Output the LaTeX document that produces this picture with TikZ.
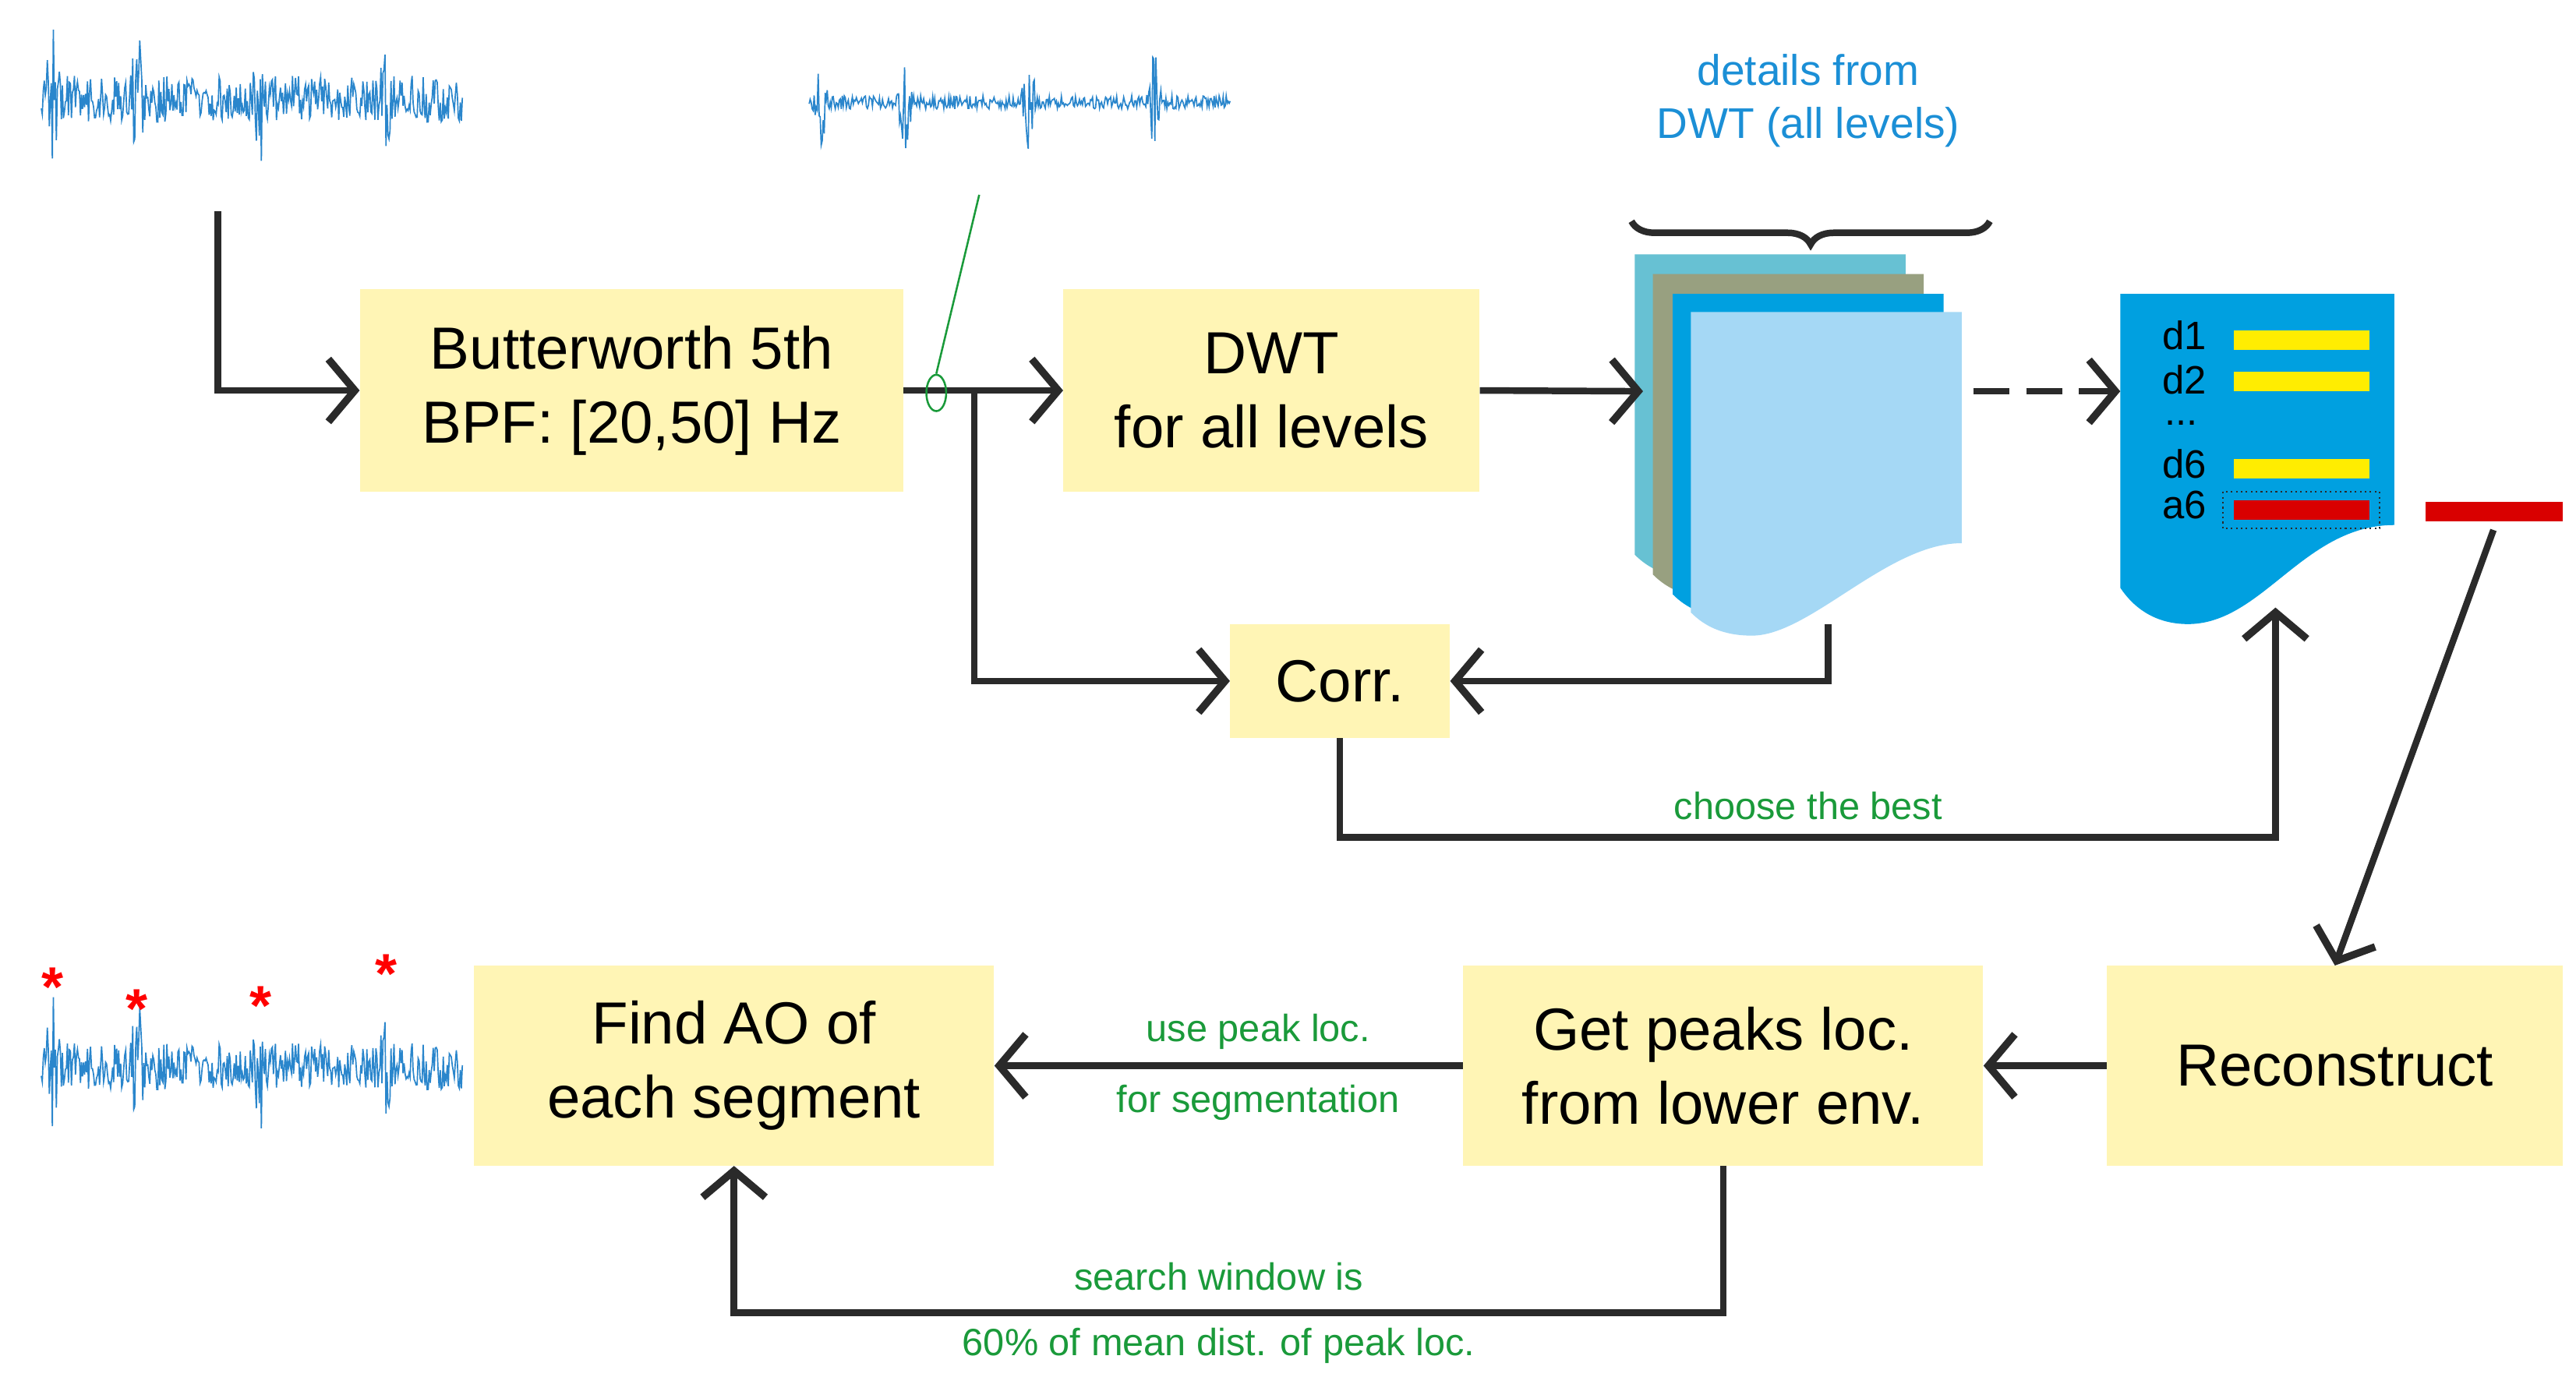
\documentclass[tikz,border=0pt]{standalone}
\usepackage{fontspec}
\setmainfont{Liberation Sans}
\usetikzlibrary{arrows.meta,decorations.pathreplacing,shapes.geometric}
\definecolor{boxy}{HTML}{FFF5B5}
\definecolor{grn}{HTML}{1A9A3A}
\definecolor{bltx}{HTML}{1B8FD6}
\definecolor{sig}{HTML}{2A86CC}
\definecolor{L1}{HTML}{67C1D3}
\definecolor{L2}{HTML}{98A080}
\definecolor{L3}{HTML}{00A0E0}
\definecolor{L4}{HTML}{A5D8F5}
\definecolor{ink}{HTML}{2A2A2A}
\tikzset{
 box/.style={fill=boxy,draw=none,align=center,inner sep=0pt,font=\fontsize{36}{45}\selectfont},
 con/.style={draw=ink,line width=4pt},
 arr/.style={con,-{Straight Barb[length=16pt,width=38pt,line width=4.5pt]}},
 glab/.style={text=grn,font=\fontsize{23}{28}\selectfont},
 sigl/.style={draw=sig,line width=0.8pt},
 dl/.style={font=\fontsize{24}{24}\selectfont,inner sep=0pt},
}
\newcommand{\mysignal}[5]{% x0, yc, base amp, spike amp, seed
 \pgfmathsetseed{#5}
 \draw[sigl] plot[samples=420,domain=0:255] ({#1+\x},{#2+ (#3 + #4*max(0,1-abs(\x-7)/5)+#4*max(0,1-abs(\x-58)/5)+#4*max(0,1-abs(\x-133)/5)+#4*max(0,1-abs(\x-209)/5))*rand});
}
\newcommand{\pagepath}[2]{%
 (#1,#2) -- ++(164,0) -- ++(0,140) .. controls ++(-45,0) and ++(35,0) .. ++(-127,56) .. controls ++(-18,0) and ++(8,8) .. ++(-37,-14) -- cycle}
\begin{document}
\begin{tikzpicture}[x=1pt,y=-1pt]
\useasboundingbox (0,0) rectangle (1560,834);
% signals
\mysignal{25}{60}{14}{32}{3}
\mysignal{490}{62}{4}{30}{7}
\mysignal{25}{646}{14}{32}{3}
\foreach \px/\py in {32/592,83/605,158/603,234/584}
 \node[text=red,font=\fontsize{34}{34}\selectfont\bfseries,inner sep=0pt] at (\px,\py+6) {*};
% boxes
\node[box,minimum width=329pt,minimum height=123pt] (bw) at (382.5,236.5) {Butterworth 5th\\BPF: [20,50] Hz};
\node[box,minimum width=252pt,minimum height=123pt] (dwt) at (770,236.5) {DWT\\for all levels};
\node[box,minimum width=133pt,minimum height=69pt] (corr) at (811.5,412.5) {Corr.};
\node[box,minimum width=276pt,minimum height=121pt] (rec) at (1414,645.5) {Reconstruct};
\node[box,minimum width=315pt,minimum height=121pt] (gp) at (1043.5,645.5) {Get peaks loc.\\from lower env.};
\node[box,minimum width=315pt,minimum height=121pt] (ao) at (444.5,645.5) {Find AO of\\each segment};
% stack of pages
\fill[L1] \pagepath{990}{154};
\fill[L2] \pagepath{1001}{166};
\fill[L3] \pagepath{1013}{178};
\fill[L4] \pagepath{1024}{189};
\coordinate (stk) at (995,237);
\coordinate (stkr) at (1195,237);
\coordinate (stkb) at (1107,378);
% doc
\fill[L3] (1284,178) -- (1450,178) -- (1450,318) .. controls (1395,318) and (1370,378) .. (1325,378) .. controls (1305,378) and (1292,368) .. (1284,356) -- cycle;
\coordinate (doc) at (1284,237);
\coordinate (docb) at (1378,368);
\foreach \n/\yy in {d1/203,d2/230,d6/281,a6/306}
 \node[dl] at (1323,\yy) {\n};
\node[dl] at (1321,256) {...};
\foreach \yy in {200,225,278} \fill[yellow!95!orange] (1353,\yy) rectangle (1435,\yy+12);
\fill[red!85!black] (1353,303) rectangle (1435,315);
\draw[dotted,line width=1pt,ink] (1346,298) rectangle (1441,320);
\fill[red!85!black] (1469,304) rectangle (1552,316);
\coordinate (redb) at (1510,321);
% brace and blue text
\draw[ink,line width=4pt,decorate,decoration={brace,amplitude=14pt,mirror}] (988,134) -- (1205,134);
\node[text=bltx,align=center,font=\fontsize{26}{32}\selectfont] (dtl) at (1095,61) {details from\\DWT (all levels)};
% connectors
\coordinate (s1) at (132,128);
\draw[arr] (s1) |- (bw.west);
\draw[arr] (bw.east) -- (dwt.west);
\coordinate (br) at (590,237);
\draw[arr] (br) |- (corr.west);
\draw[arr] (dwt.east) -- (stk);
\draw[arr,dash pattern=on 22pt off 10pt] (stkr) -- (doc);
\draw[arr] (stkb) |- (corr.east);
\draw[arr] (corr.south) -- ++(0,60) -| (docb);
\node[glab] at (1095,488) {choose the best};
\draw[arr] (redb) -- (rec.north);
\draw[arr] (rec.west) -- (gp.east);
\draw[arr] (gp.west) -- (ao.east);
\node[glab] at (762,625) {use peak loc.};
\node[glab] at (762,668) {for segmentation};
\draw[arr] (gp.south) -- ++(0,89) -| (ao.south);
\node[glab] at (738,773) {search window is};
\node[glab] at (738,815) {60\% of mean dist. of peak loc.};
% green marker
\node[draw=grn,line width=1.2pt,ellipse,minimum width=12pt,minimum height=22pt,inner sep=0pt] (mk) at (567,238) {};
\coordinate (mt) at (593,118);
\draw[grn,line width=1.2pt] (mt) -- (mk.north);
\end{tikzpicture}
\end{document}
